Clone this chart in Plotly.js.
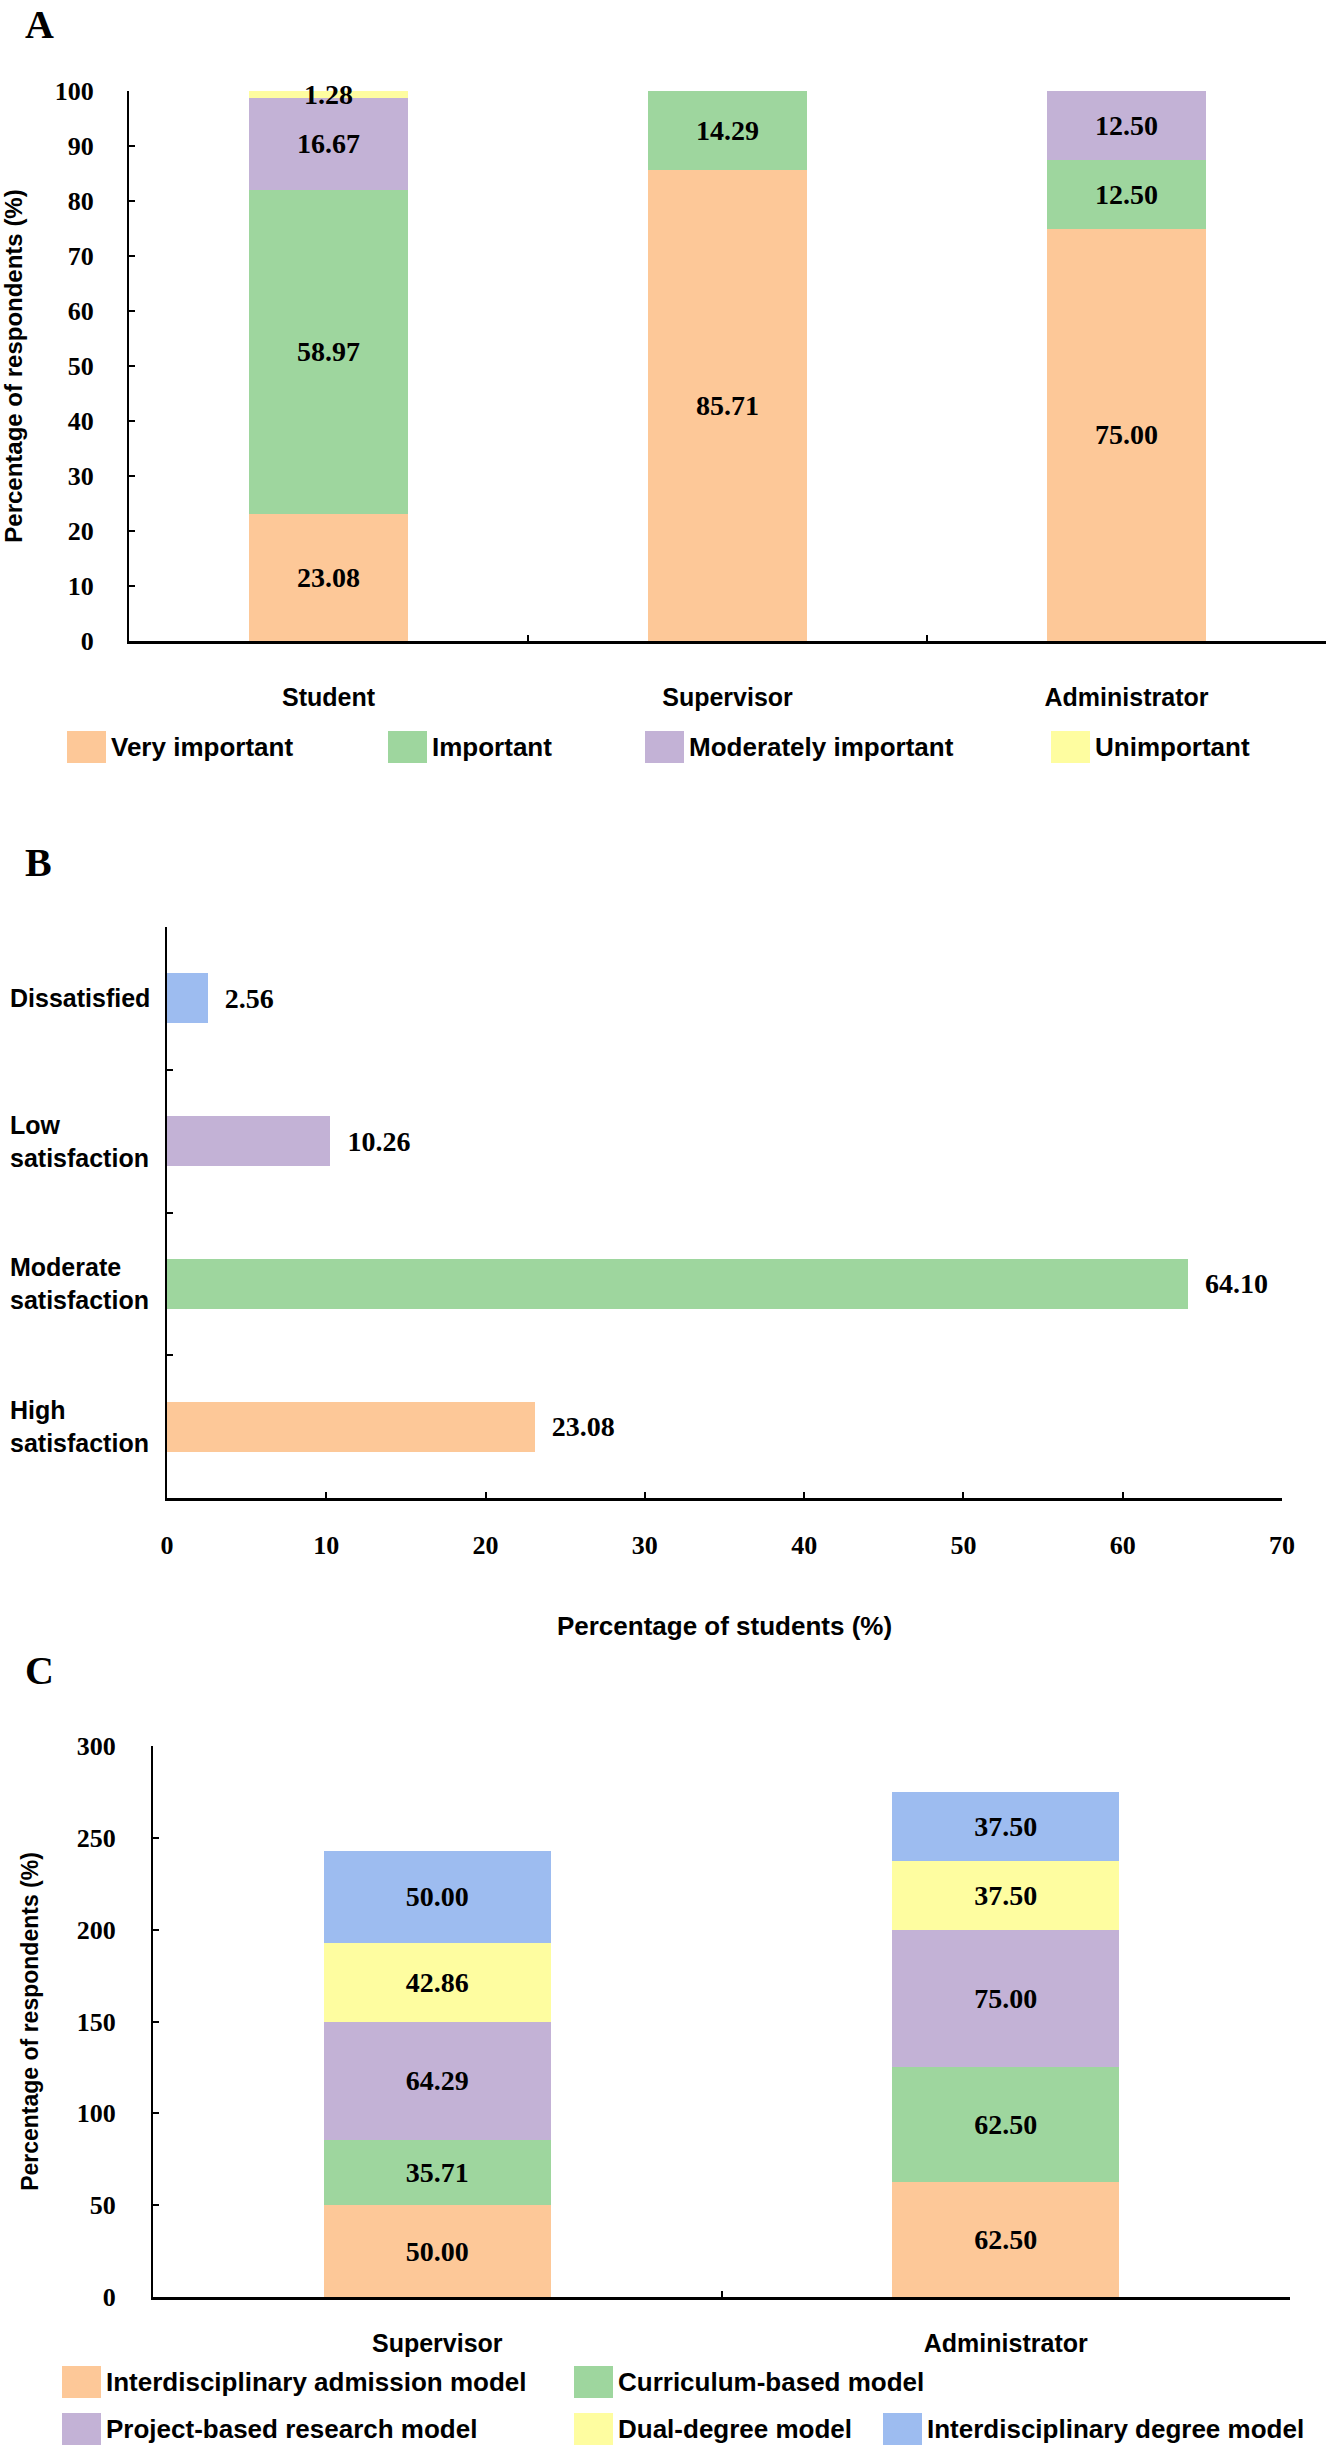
<!DOCTYPE html>
<html>
<head>
<meta charset="utf-8">
<script src="https://cdn.plot.ly/plotly-3.0.1.min.js"></script>
<style>
  html, body { margin: 0; padding: 0; background: #fff; }
  #chart { width: 1328px; height: 2450px; }
</style>
</head>
<body>
<div id="chart"></div>
<script>
// Panel A: importance by respondent group
const respondentGroups = ['Student', 'Supervisor', 'Administrator']
const importanceLevels = ['Very important', 'Important', 'Moderately important', 'Unimportant']
const veryImportant = [23.08, 85.71, 75.00]
const important = [58.97, 14.29, 12.50]
const moderatelyImportant = [16.67, 0, 12.50]
const unimportant = [1.28, 0, 0]

// Panel B: student satisfaction (bottom to top)
const satisfactionLevels = ['High<br>satisfaction', 'Moderate<br>satisfaction', 'Low<br>satisfaction', 'Dissatisfied']
const satisfactionValues = [23.08, 64.10, 10.26, 2.56]

// Panel C: training models
const modelGroups = ['Supervisor', 'Administrator']
const modelNames = ['Interdisciplinary admission model', 'Curriculum-based model', 'Project-based research model', 'Dual-degree model', 'Interdisciplinary degree model']
const admissionModel = [50.00, 62.50]
const curriculumModel = [35.71, 62.50]
const projectModel = [64.29, 75.00]
const dualDegreeModel = [42.86, 37.50]
const degreeModel = [50.00, 37.50]

const colors = ['#FDC898', '#9ED69E', '#C3B2D6', '#FEFDA0', '#9DBCF0']

const W = 1328
const H = 2450
const px = x => x / W
const py = y => 1 - y / H

const SANS = 'Liberation Sans, Arial, sans-serif'
const SERIF = 'Liberation Serif, Times New Roman, serif'
const sansFont = size => ({ family: SANS, size, color: '#000', weight: 'bold' })
const serifFont = size => ({ family: SERIF, size, color: '#000', weight: 'bold' })

const label = v => (v ? v.toFixed(2) : '')

const stackTrace = (name, x, y, color, xaxis, yaxis) => ({
  type: 'bar',
  name,
  x,
  y,
  xaxis,
  yaxis,
  width: 0.4,
  marker: { color, line: { width: 0 } },
  text: y.map(label),
  textposition: 'inside',
  insidetextanchor: 'middle',
  textangle: 0,
  constraintext: 'none',
  textfont: serifFont(28),
  cliponaxis: false,
  showlegend: false,
  hoverinfo: 'skip',
})

const data = [
  ...[veryImportant, important, moderatelyImportant, unimportant].map((vals, i) =>
    stackTrace(importanceLevels[i], respondentGroups, vals, colors[i], 'x', 'y')),
  {
    type: 'bar',
    orientation: 'h',
    x: satisfactionValues,
    y: satisfactionLevels,
    xaxis: 'x2',
    yaxis: 'y2',
    width: 0.35,
    marker: { color: [colors[0], colors[1], colors[2], colors[4]], line: { width: 0 } },
    text: satisfactionValues.map(v => '\u00a0\u00a0' + v.toFixed(2)),
    textposition: 'outside',
    textangle: 0,
    constraintext: 'none',
    textfont: serifFont(28),
    cliponaxis: false,
    showlegend: false,
    hoverinfo: 'skip',
  },
  ...[admissionModel, curriculumModel, projectModel, dualDegreeModel, degreeModel].map((vals, i) =>
    stackTrace(modelNames[i], modelGroups, vals, colors[i], 'x3', 'y3')),
]

const baseAxis = {
  showline: true,
  linecolor: '#000',
  linewidth: 2,
  showgrid: false,
  zeroline: false,
  ticks: 'inside',
  ticklen: 6,
  tickwidth: 2,
  tickcolor: '#000',
  fixedrange: true,
}

// legend layout: [left px, centre y px] per entry
const legendA = [[67, 747], [388, 747], [645, 747], [1051, 747]]
const legendC = [[62, 2382], [574, 2382], [62, 2429], [574, 2429], [883, 2429]]

const shapes = []
const annotations = []

const addLegend = (names, spots) => {
  names.forEach((name, i) => {
    const [x, y] = spots[i]
    shapes.push({
      type: 'rect', xref: 'paper', yref: 'paper',
      x0: px(x), x1: px(x + 39), y0: py(y + 16), y1: py(y - 16),
      fillcolor: colors[i], line: { width: 0 },
    })
    annotations.push({
      xref: 'paper', yref: 'paper', x: px(x + 42), y: py(y),
      xanchor: 'left', yanchor: 'middle', text: name, showarrow: false,
      font: sansFont(26),
    })
  })
}
addLegend(importanceLevels, legendA)
addLegend(modelNames, legendC)

const panels = [['A', 24], ['B', 862], ['C', 1670]]
panels.forEach(([t, y]) => annotations.push({
  xref: 'paper', yref: 'paper', x: px(24), y: py(y),
  xanchor: 'left', yanchor: 'middle', text: t, showarrow: false, borderpad: 0,
  font: serifFont(40),
}))

satisfactionLevels.forEach(cat => annotations.push({
  xref: 'paper', yref: 'y2', x: px(8), y: cat,
  xanchor: 'left', yanchor: 'middle', align: 'left', text: cat, showarrow: false,
  font: sansFont(25),
}))

const layout = {
  width: W,
  height: H,
  margin: { l: 0, r: 0, t: 0, b: 0 },
  paper_bgcolor: '#fff',
  plot_bgcolor: '#fff',
  barmode: 'stack',
  showlegend: false,
  xaxis: {
    ...baseAxis, anchor: 'y', domain: [px(129), px(1326)], type: 'category',
    range: [-0.5, 2.5], tickson: 'boundaries', linewidth: 3,
    tickfont: sansFont(25), ticklabelstandoff: 32,
  },
  yaxis: {
    ...baseAxis, anchor: 'x', domain: [py(641), py(91)], range: [0, 100], dtick: 10,
    tickfont: serifFont(26), ticklabelstandoff: 28,
    title: { text: 'Percentage of respondents (%)', font: sansFont(24), standoff: 32 },
  },
  xaxis2: {
    ...baseAxis, anchor: 'y2', domain: [px(167), px(1282)], range: [0, 70], dtick: 10,
    linewidth: 3, tickfont: serifFont(26), ticklabelstandoff: 22,
    title: { text: 'Percentage of students (%)', font: sansFont(26), standoff: 58 },
  },
  yaxis2: {
    ...baseAxis, anchor: 'x2', domain: [py(1498), py(927)], type: 'category',
    range: [-0.5, 3.5], tickson: 'boundaries', showticklabels: false,
  },
  xaxis3: {
    ...baseAxis, anchor: 'y3', domain: [px(153), px(1290)], type: 'category',
    range: [-0.5, 1.5], tickson: 'boundaries', linewidth: 3,
    tickfont: sansFont(25), ticklabelstandoff: 22,
  },
  yaxis3: {
    ...baseAxis, anchor: 'x3', domain: [py(2297), py(1746)], range: [0, 300], dtick: 50,
    tickfont: serifFont(26), ticklabelstandoff: 30,
    title: { text: 'Percentage of respondents (%)', font: sansFont(23), standoff: 32 },
  },
  shapes,
  annotations,
}

Plotly.newPlot('chart', data, layout, { displayModeBar: false, staticPlot: true })
</script>
</body>
</html>
